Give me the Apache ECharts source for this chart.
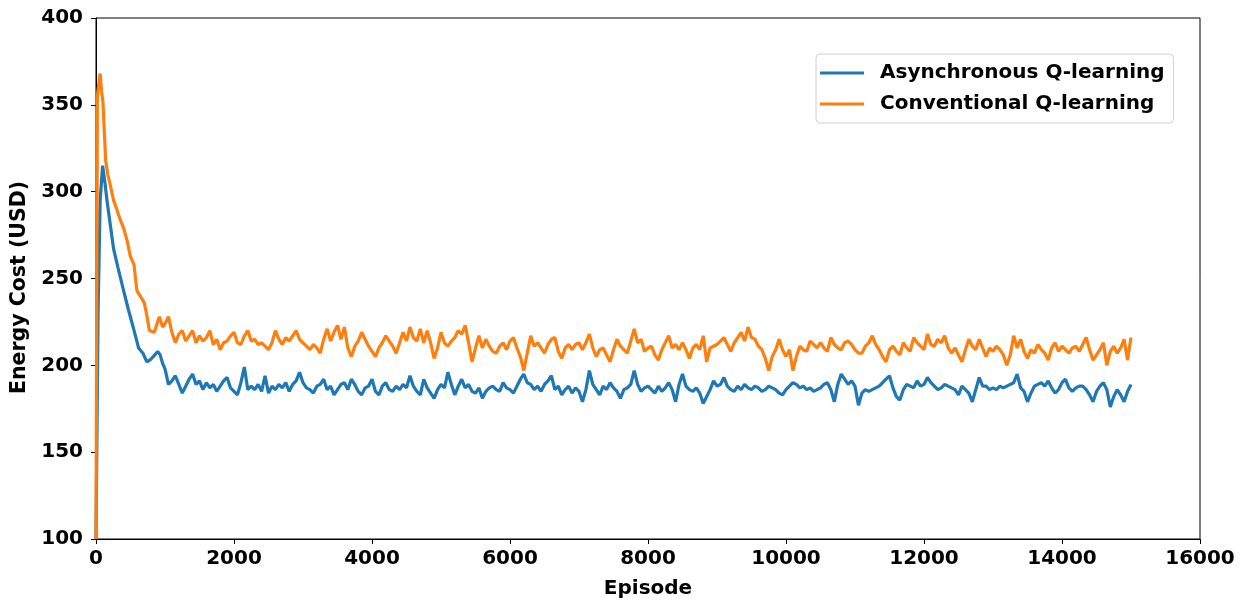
<!DOCTYPE html>
<html>
<head>
<meta charset="utf-8">
<script src="https://cdn.jsdelivr.net/npm/echarts@6/dist/echarts.min.js"></script>
<style>
html,body{margin:0;padding:0;background:#fff;}
#chart{width:1246px;height:604px;}
</style>
</head>
<body>
<div id="chart"></div>
<script>
// Axis ticks
const xTicks = [0, 2000, 4000, 6000, 8000, 10000, 12000, 14000, 16000];
const yTicks = [100, 150, 200, 250, 300, 350, 400];
const seriesNames = ['Asynchronous Q-learning', 'Conventional Q-learning'];

// Episodes sampled every 50 from 1000 to 15000 (x positions of the readings below)
const stepEpisodes = [];
for (let e = 1000; e <= 15000; e += 50) stepEpisodes.push(e);

// Asynchronous Q-learning (blue): early ramp, then the 50-episode readings
const asyncEarlyEpisodes = [0,30,60,96,130,159,200,255,320,400,470,545,617,680,737,780,830,894,930,966];
const asyncEarlyCost = [100,230,295,315,305,295,283,267,256,243,232,221,210,207,202,203,205,208,206,201];
const asyncCost = [
  198,189,191,194,189,184,188,192,195,189,191,186,190,187,189,185,188,191,193,187,
  185,183,190,199,186,188,186,189,185,194,184,188,186,189,187,190,185,189,191,196,
  190,187,186,184,188,189,192,186,188,183,186,189,190,186,192,189,185,183,187,188,
  192,185,183,188,190,186,185,188,186,189,187,194,188,185,183,192,187,184,181,186,
  189,187,196,189,183,188,192,187,189,185,184,187,181,185,187,188,186,185,190,187,
  186,184,188,192,195,190,189,186,188,185,189,191,194,186,188,183,186,188,184,187,
  185,179,186,197,189,186,183,188,186,190,187,185,181,186,187,189,197,189,185,187,
  188,186,184,188,185,187,190,186,179,189,195,188,186,185,187,184,178,182,186,191,
  188,189,193,188,186,185,188,186,189,187,186,188,187,185,186,188,187,186,184,183,
  186,188,190,189,187,188,186,187,185,186,187,189,190,186,179,189,195,192,189,191,
  188,177,184,186,185,186,187,188,190,192,194,187,182,180,186,189,188,187,191,188,
  189,193,190,188,186,187,189,188,187,186,183,188,186,184,179,186,193,188,188,186,
  187,186,188,187,188,189,190,195,187,185,179,184,188,189,190,188,191,187,184,186,
  190,192,187,185,187,188,188,186,183,179,185,188,190,186,176,182,186,183,179,185,
  189
];

// Conventional Q-learning (orange): early ramp, then the 50-episode readings
const convEarlyEpisodes = [0,20,40,60,80,100,120,140,170,200,255,300,350,400,450,496,550,593,640,700,740,773,845,918,966];
const convEarlyCost = [100,355,362,368,358,352,335,318,310,305,295,290,284,279,272,263,258,243,240,236,228,220,219,228,222];
const convCost = [
  224,228,219,213,218,220,214,217,220,213,217,214,216,220,212,215,209,213,214,217,
  219,213,212,217,220,214,215,212,213,211,209,213,220,215,212,216,214,217,220,215,
  213,211,209,212,210,207,215,221,214,219,223,215,222,210,205,211,214,219,215,211,
  208,205,210,213,217,214,211,207,213,219,214,222,216,214,221,213,220,213,204,210,
  219,213,211,214,216,220,218,223,213,202,210,217,210,215,211,208,207,211,213,209,
  214,216,210,205,197,207,217,211,213,210,207,212,215,216,208,204,210,212,209,212,
  213,209,213,218,210,205,209,210,206,202,209,215,211,209,207,214,221,213,215,208,
  210,211,206,203,209,213,217,210,212,209,213,209,204,210,212,209,217,202,210,211,
  212,214,216,212,208,213,216,219,214,222,216,215,211,209,204,197,205,209,215,209,
  205,209,197,205,211,209,208,214,212,210,213,210,208,216,212,210,209,213,214,212,
  209,207,207,211,213,217,212,209,205,202,209,211,208,206,213,210,208,216,213,211,
  209,218,212,211,215,213,217,210,207,210,206,202,209,215,211,209,215,210,205,210,
  208,211,209,206,200,206,217,210,215,208,204,209,207,212,209,207,203,210,213,208,
  211,209,207,210,211,208,212,216,209,203,206,209,213,200,208,211,207,210,215,203,
  216
];

const toPairs = (xs, ys) => xs.map((x, i) => [x, ys[i]]);
const asyncData = toPairs(asyncEarlyEpisodes, asyncEarlyCost).concat(toPairs(stepEpisodes, asyncCost));
const convData = toPairs(convEarlyEpisodes, convEarlyCost).concat(toPairs(stepEpisodes, convCost));

const chart = echarts.init(document.getElementById('chart'), null, {renderer: 'canvas'});
const font = 'DejaVu Sans';
const txt = {fontFamily: font, fontWeight: 'bold', fontSize: 20, color: '#000'};
const option = {
  animation: false,
  backgroundColor: '#fff',
  grid: {left: 96, right: 46, top: 18, bottom: 59, show: true, borderColor: '#000', borderWidth: 1, backgroundColor: 'transparent'},
  legend: {
    data: seriesNames,
    orient: 'vertical',
    left: 816, top: 54,
    backgroundColor: '#fff',
    borderColor: '#d0d0d0', borderWidth: 1, borderRadius: 4,
    padding: [9, 9, 9, 4],
    itemGap: 11,
    itemWidth: 44, itemHeight: 3,
    icon: 'rect',
    textStyle: Object.assign({}, txt, {padding: [0, 0, 0, 11]})
  },
  xAxis: {
    type: 'value', min: xTicks[0], max: xTicks[xTicks.length - 1], interval: 2000,
    name: 'Episode', nameLocation: 'middle', nameGap: 40,
    nameTextStyle: txt,
    axisLine: {show: true, lineStyle: {color: '#000', width: 1}},
    axisTick: {show: true, length: 5, lineStyle: {color: '#000'}},
    axisLabel: Object.assign({}, txt, {margin: 10, formatter: v => String(v)}),
    splitLine: {show: false}
  },
  yAxis: {
    type: 'value', min: yTicks[0], max: yTicks[yTicks.length - 1], interval: 50,
    name: 'Energy Cost (USD)', nameLocation: 'middle', nameGap: 64,
    nameTextStyle: Object.assign({}, txt, {fontSize: 20.5, padding: [0, 18, 0, 0]}),
    axisLine: {show: true, lineStyle: {color: '#000', width: 1}},
    axisTick: {show: true, length: 5, lineStyle: {color: '#000'}},
    axisLabel: Object.assign({}, txt, {margin: 13, formatter: v => String(v)}),
    splitLine: {show: false}
  },
  series: [
    {name: seriesNames[0], type: 'line', data: asyncData, showSymbol: false, symbol: 'none',
     lineStyle: {color: '#1f77b4', width: 3.2}, itemStyle: {color: '#1f77b4'}, clip: true},
    {name: seriesNames[1], type: 'line', data: convData, showSymbol: false, symbol: 'none',
     lineStyle: {color: '#ff7f0e', width: 3.2}, itemStyle: {color: '#ff7f0e'}, clip: true}
  ]
};
chart.setOption(option);
</script>
</body>
</html>
